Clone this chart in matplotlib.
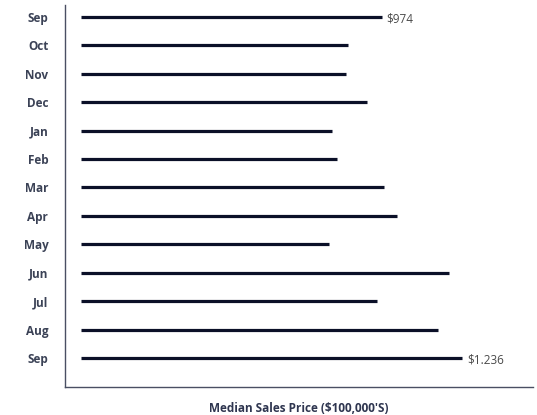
import matplotlib.pyplot as plt

months = ["Sep", "Oct", "Nov", "Dec", "Jan", "Feb", "Mar", "Apr", "May", "Jun", "Jul", "Aug", "Sep"]
prices = [974, 865, 859, 927, 814, 830, 982, 1024, 804, 1193, 960, 1157, 1236]
end_labels = {0: "$974", 12: "$1.236"}

plt.rcParams['font.family'] = ['Open Sans', 'DejaVu Sans']

fig = plt.figure(figsize=(5.37, 4.15), dpi=100)
ax = fig.add_axes([0.121, 0.0675, 0.8716, 0.9205])

y = list(range(len(months)))
ax.hlines(y, 0, prices, color='#0b1028', linewidth=2.3)
for i, txt in end_labels.items():
    ax.text(prices[i] + 15, i + 0.06, txt, va='center', ha='left', fontsize=8.5, color='#4a4a4a')

ax.set_xlim(-52, 1465)
ax.set_ylim(len(months) - 1 + 1.02, -0.42)
ax.set_yticks(y)
ax.set_yticklabels(months, fontsize=8.5, fontweight='bold', color='#3b4256')
ax.tick_params(axis='y', length=0, pad=12)
ax.set_xticks([])

for s in ['top', 'right']:
    ax.spines[s].set_visible(False)
for s in ['left', 'bottom']:
    ax.spines[s].set_color('#4a4f63')
    ax.spines[s].set_linewidth(1.0)

ax.set_xlabel("Median Sales Price ($100,000'S)", fontsize=8.5, fontweight='bold',
              color='#2f3650', labelpad=11)

fig.savefig("out.png", dpi=100)
plt.close()
